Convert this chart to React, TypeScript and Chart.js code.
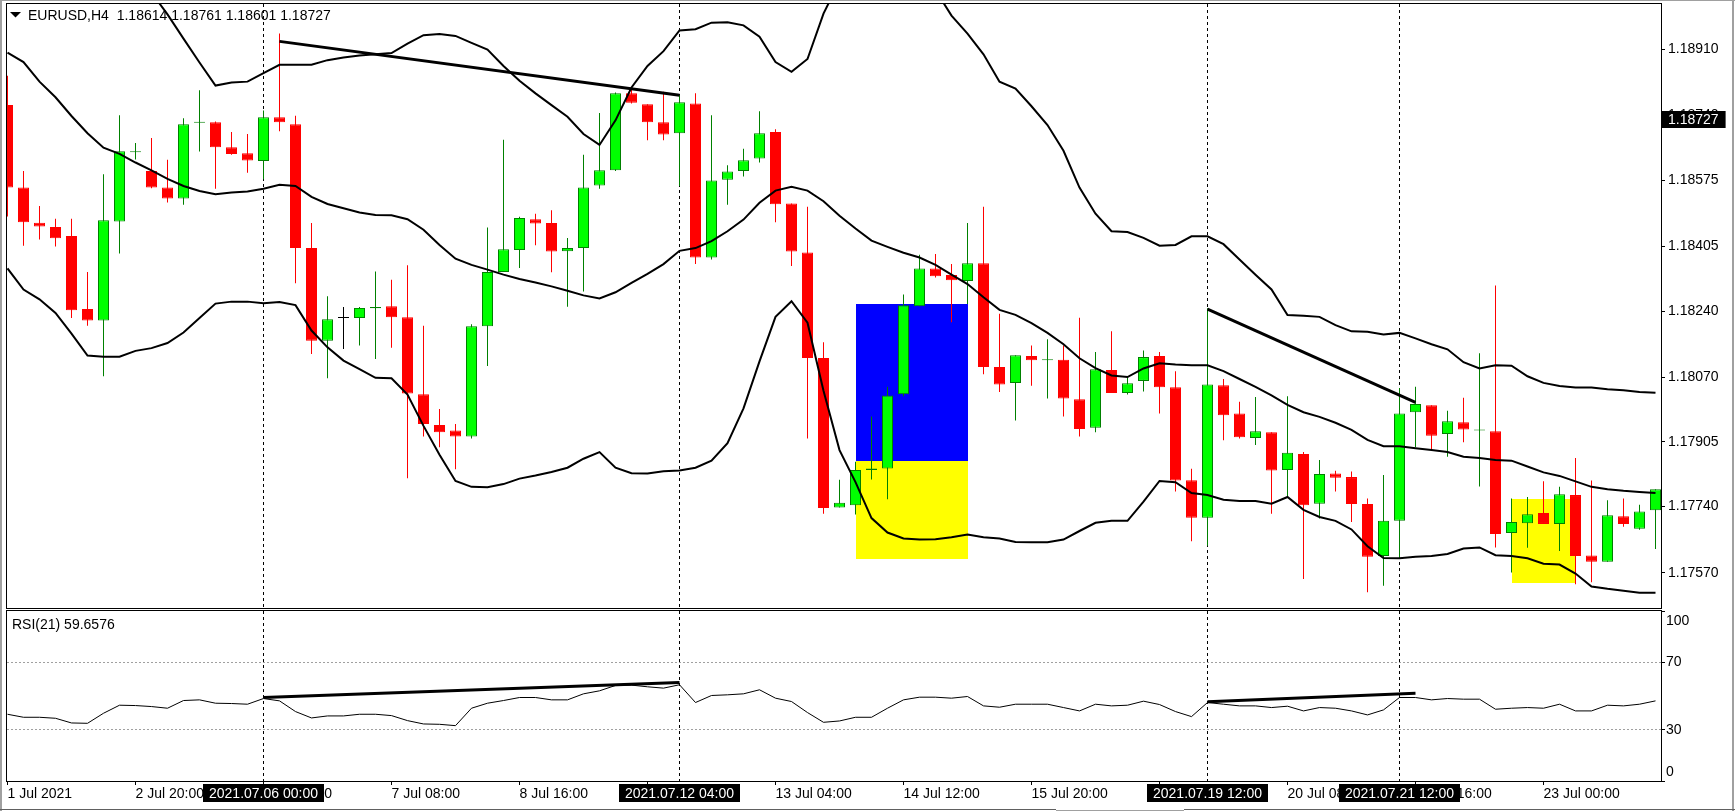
import React, { useEffect, useRef } from 'react';
import { Chart, registerables } from 'chart.js';

Chart.register(...registerables);

// ---------------- DATA ----------------
const OPEN = [
  1.18767, 1.18556, 1.18466, 1.18455, 1.18432, 1.18245, 1.18216, 1.18469, 1.18646, 1.18598,
  1.18556, 1.18528, 1.18722, 1.18723, 1.18659, 1.18644, 1.18624, 1.18736, 1.18718, 1.18401,
  1.18164, 1.18222, 1.18222, 1.18247, 1.18252, 1.18224, 1.18027, 1.17948, 1.17934, 1.17919,
  1.18201, 1.18340, 1.18396, 1.18475, 1.18465, 1.18393, 1.18401, 1.18561, 1.18600, 1.18797,
  1.18769, 1.18723, 1.18695, 1.18771, 1.18377, 1.18576, 1.18598, 1.18630, 1.18698, 1.18515,
  1.18390, 1.18120, 1.17737, 1.17743, 1.17833, 1.17837, 1.18027, 1.18252, 1.18349, 1.18332,
  1.18317, 1.18362, 1.18097, 1.18056, 1.18125, 1.18114, 1.18115, 1.18014, 1.17941, 1.18089,
  1.18030, 1.18061, 1.18125, 1.18045, 1.17807, 1.17711, 1.18050, 1.17978, 1.17915, 1.17930,
  1.17833, 1.17874, 1.17747, 1.17824, 1.17815, 1.17746, 1.17613, 1.17703, 1.17981, 1.17999,
  1.17925, 1.17955, 1.17934, 1.17932, 1.17672, 1.17697, 1.17723, 1.17695, 1.17769, 1.17614,
  1.17598, 1.17715, 1.17683, 1.17730,
];
const HIGH = [
  1.18842, 1.18598, 1.18509, 1.18476, 1.18476, 1.18340, 1.18590, 1.18741, 1.18670, 1.18683,
  1.18627, 1.18733, 1.18805, 1.18725, 1.18698, 1.18693, 1.18753, 1.18950, 1.18740, 1.18465,
  1.18278, 1.18250, 1.18250, 1.18341, 1.18320, 1.18357, 1.18202, 1.17989, 1.17951, 1.18206,
  1.18454, 1.18678, 1.18481, 1.18489, 1.18498, 1.18427, 1.18640, 1.18747, 1.18799, 1.18812,
  1.18769, 1.18801, 1.18792, 1.18797, 1.18741, 1.18613, 1.18655, 1.18751, 1.18705, 1.18515,
  1.18507, 1.18160, 1.17808, 1.17854, 1.17970, 1.18046, 1.18282, 1.18384, 1.18386, 1.18360,
  1.18465, 1.18507, 1.18233, 1.18127, 1.18152, 1.18168, 1.18152, 1.18223, 1.18135, 1.18188,
  1.18071, 1.18139, 1.18135, 1.18086, 1.17836, 1.18247, 1.18066, 1.18008, 1.18020, 1.17930,
  1.18022, 1.17879, 1.17859, 1.17831, 1.17829, 1.17760, 1.17820, 1.18043, 1.18046, 1.17999,
  1.17985, 1.18018, 1.18132, 1.18305, 1.17760, 1.17764, 1.17804, 1.17790, 1.17864, 1.17806,
  1.17756, 1.17760, 1.17744, 1.17784,
];
const LOW = [
  1.18482, 1.18407, 1.18423, 1.18405, 1.18222, 1.18202, 1.18073, 1.18387, 1.18628, 1.18554,
  1.18518, 1.18512, 1.18648, 1.18553, 1.18640, 1.18594, 1.18577, 1.18700, 1.18311, 1.18130,
  1.18068, 1.18143, 1.18152, 1.18117, 1.18146, 1.17812, 1.17919, 1.17891, 1.17835, 1.17914,
  1.18099, 1.18340, 1.18350, 1.18408, 1.18339, 1.18251, 1.18290, 1.18553, 1.18598, 1.18771,
  1.18677, 1.18677, 1.18560, 1.18360, 1.18372, 1.18512, 1.18584, 1.18620, 1.18467, 1.18355,
  1.17914, 1.17721, 1.17737, 1.17719, 1.17809, 1.17758, 1.18022, 1.18252, 1.18326, 1.18211,
  1.18258, 1.18078, 1.18033, 1.17960, 1.18049, 1.18016, 1.17970, 1.17919, 1.17930, 1.18030,
  1.18026, 1.18034, 1.17978, 1.17778, 1.17651, 1.17639, 1.17909, 1.17914, 1.17897, 1.17721,
  1.17762, 1.17554, 1.17709, 1.17778, 1.17700, 1.17520, 1.17537, 1.17607, 1.17891, 1.17882,
  1.17867, 1.17904, 1.17791, 1.17635, 1.17571, 1.17634, 1.17695, 1.17626, 1.17541, 1.17546,
  1.17598, 1.17688, 1.17680, 1.17631,
];
const CLOSE = [
  1.18556, 1.18467, 1.18456, 1.18426, 1.18242, 1.18216, 1.18472, 1.18649, 1.18649, 1.18556,
  1.18528, 1.18718, 1.18724, 1.18659, 1.18642, 1.18625, 1.18736, 1.18723, 1.18401, 1.18164,
  1.18219, 1.18222, 1.18248, 1.18250, 1.18224, 1.18029, 1.17951, 1.17930, 1.17919, 1.18201,
  1.18340, 1.18398, 1.18478, 1.18464, 1.18392, 1.18401, 1.18556, 1.18600, 1.18797, 1.18773,
  1.18723, 1.18692, 1.18774, 1.18377, 1.18574, 1.18597, 1.18626, 1.18695, 1.18513, 1.18392,
  1.18120, 1.17736, 1.17749, 1.17833, 1.17837, 1.18024, 1.18255, 1.18349, 1.18329, 1.18319,
  1.18362, 1.18097, 1.18052, 1.18127, 1.18114, 1.18116, 1.18016, 1.17938, 1.18091, 1.18030,
  1.18055, 1.18122, 1.18045, 1.17806, 1.17711, 1.18052, 1.17973, 1.17917, 1.17932, 1.17832,
  1.17877, 1.17743, 1.17823, 1.17813, 1.17746, 1.17611, 1.17703, 1.17978, 1.18002, 1.17921,
  1.17958, 1.17937, 1.17935, 1.17669, 1.17700, 1.17720, 1.17695, 1.17771, 1.17613, 1.17598,
  1.17717, 1.17695, 1.17727, 1.17784,
];
const BB_UPPER = [
  1.19452, 1.19459, 1.19384, 1.19339, 1.19297, 1.19264, 1.19193, 1.19161, 1.19103, 1.19055,
  1.18999, 1.18937, 1.18876, 1.18817, 1.18825, 1.18827, 1.18849, 1.18870, 1.18870, 1.18870,
  1.18882, 1.18889, 1.18894, 1.18897, 1.18900, 1.18924, 1.18946, 1.18949, 1.18944, 1.18926,
  1.18909, 1.18867, 1.18829, 1.18797, 1.18767, 1.18737, 1.18693, 1.18665, 1.18728, 1.18812,
  1.18867, 1.18905, 1.18958, 1.18961, 1.18978, 1.18979, 1.18971, 1.18942, 1.18877, 1.18852,
  1.18885, 1.19001, 1.19084, 1.19100, 1.19128, 1.19136, 1.19121, 1.19100, 1.19061, 1.18996,
  1.18950, 1.18897, 1.18827, 1.18809, 1.18764, 1.18716, 1.18650, 1.18556, 1.18489, 1.18444,
  1.18442, 1.18427, 1.18407, 1.18409, 1.18431, 1.18431, 1.18411, 1.18372, 1.18333, 1.18295,
  1.18230, 1.18228, 1.18225, 1.18204, 1.18188, 1.18187, 1.18180, 1.18184, 1.18170, 1.18155,
  1.18142, 1.18109, 1.18093, 1.18101, 1.18100, 1.18073, 1.18056, 1.18048, 1.18044, 1.18044,
  1.18040, 1.18037, 1.18033, 1.18031,
];
const BB_MIDDLE = [
  1.18901, 1.18877, 1.18827, 1.18787, 1.18739, 1.18695, 1.18658, 1.18642, 1.18620, 1.18600,
  1.18578, 1.18560, 1.18547, 1.18539, 1.18543, 1.18546, 1.18553, 1.18563, 1.18560, 1.18532,
  1.18514, 1.18503, 1.18492, 1.18486, 1.18485, 1.18475, 1.18448, 1.18409, 1.18374, 1.18358,
  1.18346, 1.18333, 1.18322, 1.18313, 1.18303, 1.18292, 1.18280, 1.18272, 1.18288, 1.18312,
  1.18335, 1.18360, 1.18394, 1.18401, 1.18419, 1.18444, 1.18474, 1.18517, 1.18548, 1.18558,
  1.18548, 1.18521, 1.18484, 1.18451, 1.18420, 1.18404, 1.18389, 1.18377, 1.18358, 1.18333,
  1.18309, 1.18275, 1.18243, 1.18230, 1.18209, 1.18184, 1.18155, 1.18119, 1.18094, 1.18075,
  1.18071, 1.18093, 1.18106, 1.18103, 1.18101, 1.18101, 1.18086, 1.18066, 1.18046, 1.18024,
  1.18000, 1.17981, 1.17969, 1.17954, 1.17936, 1.17910, 1.17894, 1.17894, 1.17889, 1.17884,
  1.17879, 1.17867, 1.17864, 1.17859, 1.17857, 1.17842, 1.17827, 1.17818, 1.17804, 1.17790,
  1.17784, 1.17780, 1.17777, 1.17774,
];
const BB_LOWER = [
  1.18349, 1.18295, 1.18270, 1.18235, 1.18182, 1.18126, 1.18123, 1.18123, 1.18138, 1.18145,
  1.18158, 1.18185, 1.18222, 1.18259, 1.18264, 1.18264, 1.18260, 1.18263, 1.18255, 1.18190,
  1.18147, 1.18113, 1.18091, 1.18069, 1.18068, 1.18026, 1.17946, 1.17872, 1.17805, 1.17790,
  1.17789, 1.17797, 1.17811, 1.17819, 1.17828, 1.17839, 1.17862, 1.17879, 1.17839, 1.17825,
  1.17824, 1.17830, 1.17832, 1.17839, 1.17857, 1.17902, 1.17991, 1.18111, 1.18225, 1.18265,
  1.18210, 1.18036, 1.17884, 1.17802, 1.17710, 1.17673, 1.17658, 1.17655, 1.17656, 1.17661,
  1.17668, 1.17661, 1.17658, 1.17649, 1.17648, 1.17648, 1.17655, 1.17677, 1.17698, 1.17703,
  1.17703, 1.17752, 1.17805, 1.17802, 1.17774, 1.17769, 1.17757, 1.17754, 1.17754, 1.17747,
  1.17764, 1.17731, 1.17713, 1.17703, 1.17681, 1.17638, 1.17608, 1.17607, 1.17611, 1.17613,
  1.17618, 1.17632, 1.17635, 1.17615, 1.17613, 1.17607, 1.17593, 1.17591, 1.17568, 1.17535,
  1.17529, 1.17524, 1.17519, 1.17519,
];
const RSI = [
  39.26, 37.49, 37.49, 36.90, 34.14, 33.94, 39.85, 44.58, 44.38, 43.79,
  42.81, 47.34, 47.73, 45.76, 45.57, 45.17, 48.52, 47.14, 40.84, 37.09,
  38.28, 38.28, 39.26, 39.26, 38.47, 35.52, 33.55, 33.35, 32.56, 42.81,
  45.76, 47.34, 49.11, 49.11, 47.73, 47.73, 51.28, 53.05, 56.21, 56.40,
  55.42, 54.63, 56.60, 46.16, 50.30, 50.69, 51.28, 53.65, 48.72, 46.75,
  40.25, 34.53, 35.32, 37.49, 37.49, 42.81, 47.73, 49.31, 49.31, 48.72,
  49.70, 44.19, 43.40, 45.17, 45.17, 45.17, 43.20, 41.23, 45.17, 44.19,
  44.58, 46.95, 44.98, 40.84, 37.88, 46.16, 45.17, 44.19, 44.19, 43.20,
  43.99, 41.23, 43.20, 42.81, 41.23, 38.87, 41.82, 49.11, 49.11, 47.73,
  48.52, 48.13, 48.13, 42.22, 42.81, 43.20, 42.81, 45.17, 41.23, 41.23,
  44.58, 44.19, 45.17, 47.14,
];

const PRICE_TICKS = [1.1891, 1.1874, 1.18575, 1.18405, 1.1824, 1.1807, 1.17905, 1.1774, 1.1757];
const RSI_TICKS = [0, 30, 70, 100];
const RSI_LEVELS = [30, 70];
const TIME_TICK_INDEX = [0, 8, 16, 24, 32, 40, 48, 56, 64, 72, 80, 88, 96];
const TIME_TICK_LABELS = [
  '1 Jul 2021', '2 Jul 20:00', '6 Jul 00:00', '7 Jul 08:00', '8 Jul 16:00', '11 Jul 20:00',
  '13 Jul 04:00', '14 Jul 12:00', '15 Jul 20:00', '19 Jul 00:00', '20 Jul 08:00',
  '21 Jul 16:00', '23 Jul 00:00',
];
const VLINE_INDEX = [16, 42, 75, 87];
const VLINE_LABELS = ['2021.07.06 00:00', '2021.07.12 04:00', '2021.07.19 12:00', '2021.07.21 12:00'];

const PRICE_TREND_1 = [{ x: 17, y: 1.1893 }, { x: 42, y: 1.18792 }];
const PRICE_TREND_2 = [{ x: 75, y: 1.18245 }, { x: 88, y: 1.18006 }];
const RSI_TREND_1 = [{ x: 16, y: 49.11 }, { x: 42, y: 57.98 }];
const RSI_TREND_2 = [{ x: 75, y: 46.55 }, { x: 88, y: 51.67 }];

const RECT_FROM = [53, 53, 94];
const RECT_TO = [60, 60, 98];
const RECT_HIGH = [1.18259, 1.17855, 1.17759];
const RECT_LOW = [1.17855, 1.17606, 1.17543];

const CURRENT_PRICE = 1.18727;
const TITLE = 'EURUSD,H4  1.18614 1.18761 1.18601 1.18727';
const RSI_TITLE = 'RSI(21) 59.6576';

// ---------------- STYLE / LAYOUT ----------------
const FONT_FAMILY = '"Liberation Sans", Arial, sans-serif';
const FONT_PX = 14;
const FONT = `${FONT_PX}px ${FONT_FAMILY}`;
const RECT_COLORS = ['#0000ff', '#ffff00', '#ffff00'];
const C = {
  bullFill: '#00ff00',
  bullLine: '#008000',
  bear: '#ff0000',
  doji: '#000000',
  ink: '#000000',
  level: '#a0a0a0',
  windowEdge: '#a0a0a0',
  windowDark: '#606060',
};

const W = 1735;
const H = 811;
const MAIN_H = 609;
const RSI_H = H - MAIN_H;
const AREA_LEFT = 7;
const AREA_RIGHT = 1661;
const AXIS_W = W - AREA_RIGHT;
const MAIN_TOP = 4;
const MAIN_BOTTOM = 608;
const RSI_TOP = 2;
const RSI_BOTTOM = 172;
const X_MIN = -0.03125;
const X_MAX = 103.34375;
const P_MAX = 1.1902568;
const P_MIN = 1.1747993;

const IDX = OPEN.map((_, i) => i);
const dir = (i: number) => (CLOSE[i] > OPEN[i] ? 1 : CLOSE[i] < OPEN[i] ? -1 : 0);
const lineColor = IDX.map((i) => (dir(i) > 0 ? C.bullLine : dir(i) < 0 ? C.bear : C.doji));
const fillColor = IDX.map((i) => (dir(i) > 0 ? C.bullFill : dir(i) < 0 ? C.bear : C.doji));

function drawVLines(chart: any, top: number, bottom: number) {
  const { ctx, scales } = chart;
  const x = scales.x;
  ctx.save();
  ctx.strokeStyle = C.ink;
  ctx.lineWidth = 1;
  ctx.setLineDash([3, 3]);
  VLINE_INDEX.forEach((i) => {
    const px = Math.floor(x.getPixelForValue(i)) + 0.5;
    ctx.beginPath();
    ctx.moveTo(px, top);
    ctx.lineTo(px, bottom);
    ctx.stroke();
  });
  ctx.restore();
}

function drawFrame(chart: any) {
  const { ctx, chartArea: a } = chart;
  ctx.save();
  ctx.strokeStyle = C.ink;
  ctx.lineWidth = 1;
  ctx.strokeRect(a.left - 0.5, a.top - 0.5, a.right - a.left + 1, a.bottom - a.top + 1);
  ctx.restore();
}

const mainDecor = {
  id: 'mainDecor',
  beforeDraw(chart: any) {
    const { ctx } = chart;
    ctx.save();
    ctx.fillStyle = '#ffffff';
    ctx.fillRect(0, 0, chart.width, chart.height);
    ctx.restore();
  },
  beforeDatasetsDraw(chart: any) {
    const { ctx, chartArea: a, scales } = chart;
    const { x, y } = scales;
    ctx.save();
    ctx.beginPath();
    ctx.rect(a.left, a.top, a.right - a.left, a.bottom - a.top);
    ctx.clip();
    RECT_FROM.forEach((from, k) => {
      const x0 = Math.round(x.getPixelForValue(from));
      const x1 = Math.round(x.getPixelForValue(RECT_TO[k]));
      const y0 = Math.round(y.getPixelForValue(RECT_HIGH[k]));
      const y1 = Math.round(y.getPixelForValue(RECT_LOW[k]));
      ctx.fillStyle = RECT_COLORS[k];
      ctx.fillRect(x0, y0, x1 - x0, y1 - y0);
    });
    ctx.restore();
    drawVLines(chart, a.top, a.bottom);
  },
  afterDraw(chart: any) {
    const { ctx, chartArea: a, scales } = chart;
    const y = scales.y;
    drawFrame(chart);
    ctx.save();
    // window edges
    ctx.fillStyle = C.windowEdge;
    ctx.fillRect(0, 0, W, 1);
    ctx.fillRect(0, 0, 2, chart.height);
    ctx.fillRect(W - 3, 0, 2, chart.height);
    // title
    ctx.fillStyle = C.ink;
    ctx.beginPath();
    ctx.moveTo(10, 12);
    ctx.lineTo(21, 12);
    ctx.lineTo(15.5, 17.5);
    ctx.closePath();
    ctx.fill();
    ctx.font = FONT;
    ctx.textAlign = 'left';
    ctx.textBaseline = 'alphabetic';
    ctx.fillText(TITLE, 28, 20);
    // current price box
    const py = y.getPixelForValue(CURRENT_PRICE);
    const label = CURRENT_PRICE.toFixed(5);
    const tw = ctx.measureText(label).width;
    ctx.fillStyle = '#000000';
    ctx.fillRect(a.right + 1, Math.round(py) - 10, tw + 13, 17);
    ctx.fillStyle = '#ffffff';
    ctx.textBaseline = 'middle';
    ctx.fillText(label, a.right + 7, py - 1);
    ctx.restore();
  },
};

const rsiDecor = {
  id: 'rsiDecor',
  beforeDraw(chart: any) {
    const { ctx } = chart;
    ctx.save();
    ctx.fillStyle = '#ffffff';
    ctx.fillRect(0, 0, chart.width, chart.height);
    ctx.restore();
  },
  beforeDatasetsDraw(chart: any) {
    const { ctx, chartArea: a, scales } = chart;
    const y = scales.y;
    ctx.save();
    ctx.strokeStyle = C.level;
    ctx.lineWidth = 1;
    ctx.setLineDash([2, 2]);
    RSI_LEVELS.forEach((v) => {
      const py = Math.floor(y.getPixelForValue(v)) + 0.5;
      ctx.beginPath();
      ctx.moveTo(a.left, py);
      ctx.lineTo(a.right, py);
      ctx.stroke();
    });
    ctx.restore();
    drawVLines(chart, a.top, a.bottom);
  },
  afterDraw(chart: any) {
    const { ctx, chartArea: a, scales } = chart;
    const { x, y } = scales;
    drawFrame(chart);
    ctx.save();
    ctx.fillStyle = C.windowEdge;
    ctx.fillRect(0, 0, 2, chart.height);
    ctx.fillRect(W - 3, 0, 2, chart.height);
    ctx.fillStyle = C.windowDark;
    ctx.fillRect(0, chart.height - 2, 1056, 1);
    ctx.fillRect(1184, chart.height - 2, W - 1184, 1);
    ctx.fillStyle = C.windowEdge;
    ctx.fillRect(1056, chart.height - 1, 128, 1);
    ctx.font = FONT;
    ctx.fillStyle = C.ink;
    ctx.textAlign = 'left';
    ctx.textBaseline = 'alphabetic';
    ctx.fillText(RSI_TITLE, 12, 20);
    ctx.textBaseline = 'middle';
    RSI_TICKS.forEach((v) => {
      const py = Math.min(Math.max(y.getPixelForValue(v), a.top + 10), a.bottom - 9);
      ctx.fillText(String(v), a.right + 5, py);
    });
    // time boxes
    VLINE_INDEX.forEach((i, k) => {
      const cx = Math.floor(x.getPixelForValue(i)) + 0.5;
      const t = VLINE_LABELS[k];
      const tw = ctx.measureText(t).width;
      const bw = Math.round(tw + 12);
      ctx.fillStyle = '#000000';
      ctx.fillRect(Math.round(cx - bw / 2), a.bottom + 3, bw, 18);
      ctx.fillStyle = '#ffffff';
      ctx.textAlign = 'center';
      ctx.fillText(t, cx, a.bottom + 13);
    });
    ctx.restore();
  },
};

export default function App() {
  const mainRef = useRef<HTMLCanvasElement | null>(null);
  const rsiRef = useRef<HTMLCanvasElement | null>(null);

  useEffect(() => {
    if (!mainRef.current || !rsiRef.current) return;
    const font = { family: FONT_FAMILY, size: FONT_PX };

    const main = new Chart(mainRef.current, {
      type: 'bar',
      data: {
        datasets: [
          {
            type: 'line', data: PRICE_TREND_1, borderColor: C.ink, borderWidth: 3,
            pointRadius: 0, order: 0, clip: 0,
          } as any,
          {
            type: 'line', data: PRICE_TREND_2, borderColor: C.ink, borderWidth: 3,
            pointRadius: 0, order: 0, clip: 0,
          } as any,
          {
            type: 'line', data: IDX.map((i) => ({ x: i, y: BB_UPPER[i] })), borderColor: C.ink,
            borderWidth: 2, pointRadius: 0, order: 1, clip: 0,
          } as any,
          {
            type: 'line', data: IDX.map((i) => ({ x: i, y: BB_MIDDLE[i] })), borderColor: C.ink,
            borderWidth: 2, pointRadius: 0, order: 1, clip: 0,
          } as any,
          {
            type: 'line', data: IDX.map((i) => ({ x: i, y: BB_LOWER[i] })), borderColor: C.ink,
            borderWidth: 2, pointRadius: 0, order: 1, clip: 0,
          } as any,
          {
            type: 'bar', data: IDX.map((i) => ({ x: i, y: [OPEN[i], CLOSE[i]] })),
            backgroundColor: fillColor, borderColor: lineColor, borderWidth: 1,
            borderSkipped: false, barThickness: 11, minBarLength: 1, grouped: false,
            inflateAmount: 0, order: 2, clip: 0,
          } as any,
          {
            type: 'bar', data: IDX.map((i) => ({ x: i, y: [LOW[i], HIGH[i]] })),
            backgroundColor: lineColor, borderWidth: 0, barThickness: 1, grouped: false,
            inflateAmount: 0, order: 3, clip: 0,
          } as any,
        ],
      },
      options: {
        responsive: false,
        animation: false,
        devicePixelRatio: 1,
        events: [],
        layout: { padding: { left: AREA_LEFT, top: MAIN_TOP, right: 0, bottom: MAIN_H - MAIN_BOTTOM } },
        plugins: { legend: { display: false }, tooltip: { enabled: false } },
        scales: {
          x: {
            type: 'linear', display: false, min: X_MIN, max: X_MAX, offset: false, bounds: 'data',
            grid: { offset: false },
          },
          y: {
            type: 'linear', position: 'right', min: P_MIN, max: P_MAX, bounds: 'data',
            afterBuildTicks: (s: any) => { s.ticks = PRICE_TICKS.map((v) => ({ value: v })); },
            afterFit: (s: any) => { s.width = AXIS_W; s.paddingTop = 0; s.paddingBottom = 0; },
            ticks: {
              callback: (v: any) => Number(v).toFixed(5), font, color: C.ink, padding: 3,
              autoSkip: false, maxRotation: 0,
            },
            grid: { drawOnChartArea: false, drawTicks: true, tickLength: 4, tickColor: C.ink, color: C.ink },
            border: { display: false },
          },
        },
      } as any,
      plugins: [mainDecor],
    });

    const rsi = new Chart(rsiRef.current, {
      type: 'line',
      data: {
        datasets: [
          { data: RSI_TREND_1, borderColor: C.ink, borderWidth: 3, pointRadius: 0, order: 0, clip: 0 } as any,
          { data: RSI_TREND_2, borderColor: C.ink, borderWidth: 3, pointRadius: 0, order: 0, clip: 0 } as any,
          {
            data: IDX.map((i) => ({ x: i, y: RSI[i] })), borderColor: C.ink, borderWidth: 1,
            pointRadius: 0, order: 1, clip: 0,
          } as any,
        ],
      },
      options: {
        responsive: false,
        animation: false,
        devicePixelRatio: 1,
        events: [],
        layout: { padding: { left: AREA_LEFT, top: RSI_TOP, right: 0, bottom: 0 } },
        plugins: { legend: { display: false }, tooltip: { enabled: false } },
        scales: {
          x: {
            type: 'linear', position: 'bottom', min: X_MIN, max: X_MAX, offset: false, bounds: 'data',
            afterBuildTicks: (s: any) => { s.ticks = TIME_TICK_INDEX.map((v) => ({ value: v })); },
            afterFit: (s: any) => { s.height = RSI_H - RSI_BOTTOM; s.paddingLeft = 0; s.paddingRight = 0; },
            ticks: {
              callback: (_v: any, k: number) => TIME_TICK_LABELS[k], align: 'start', font,
              color: C.ink, padding: 1, autoSkip: false, maxRotation: 0, minRotation: 0,
            },
            grid: { drawOnChartArea: false, drawTicks: true, tickLength: 4, tickColor: C.ink, color: C.ink, offset: false },
            border: { display: false },
          },
          y: {
            type: 'linear', position: 'right', min: 0, max: 100, bounds: 'data',
            afterBuildTicks: (s: any) => { s.ticks = RSI_TICKS.map((v) => ({ value: v })); },
            afterFit: (s: any) => { s.width = AXIS_W; s.paddingTop = 0; s.paddingBottom = 0; },
            ticks: { display: false },
            grid: { drawOnChartArea: false, drawTicks: true, tickLength: 4, tickColor: C.ink, color: C.ink },
            border: { display: false },
          },
        },
      } as any,
      plugins: [rsiDecor],
    });

    return () => {
      main.destroy();
      rsi.destroy();
    };
  }, []);

  return (
    <div style={{ position: 'fixed', left: 0, top: 0, width: W, height: H, background: '#ffffff', overflow: 'hidden' }}>
      <canvas
        ref={mainRef}
        width={W}
        height={MAIN_H}
        style={{ position: 'absolute', left: 0, top: 0, width: W, height: MAIN_H }}
      />
      <canvas
        ref={rsiRef}
        width={W}
        height={RSI_H}
        style={{ position: 'absolute', left: 0, top: MAIN_H, width: W, height: RSI_H }}
      />
    </div>
  );
}
